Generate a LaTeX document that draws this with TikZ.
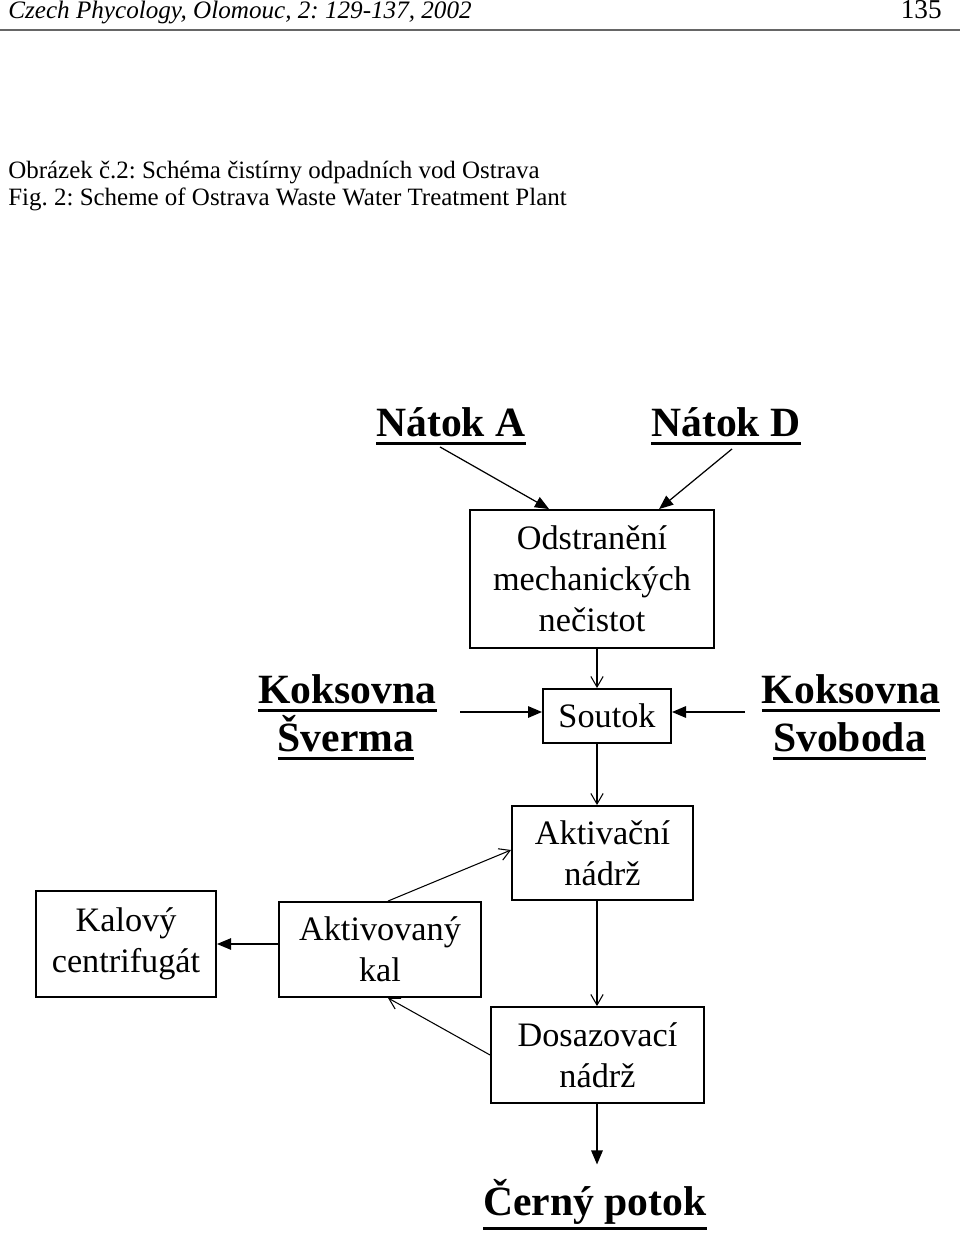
\documentclass[tikz,border=0pt]{standalone}
\usepackage{fontspec}
\setmainfont{Liberation Serif}
\usetikzlibrary{arrows.meta,calc}
\newcommand{\ulbf}[2][4.9pt]{\setbox0=\hbox{#2}\rlap{\rule[-#1]{\wd0}{1.7pt}}\box0}
\begin{document}
\frenchspacing
\begin{tikzpicture}[x=0.02cm,y=-0.02cm,
  box/.style={draw,line width=1.1pt,align=center,inner sep=0pt,font=\fontsize{19.5}{23.3}\selectfont},
  lbl/.style={inner sep=0pt,anchor=base,font=\fontsize{23.7}{28}\selectfont\bfseries},
  filltip/.style={-{Triangle[length=8pt,width=6.5pt]},line width=0.7pt},
  opentip/.style={-{Straight Barb[length=6pt,width=7pt]},line width=0.6pt}]
\useasboundingbox (0,0) rectangle (960,1246);
\node[anchor=base west,inner sep=0pt,font=\fontsize{14.3}{17}\selectfont\itshape] (journal) at (8,19) {Czech Phycology, Olomouc, 2: 129-137, 2002};
\node[anchor=base east,inner sep=0pt,font=\fontsize{15.5}{17}\selectfont] (page) at (942,19) {135};
\draw[line width=1.4pt,black!60] (0,30) -- (960,30);
\node[anchor=base west,inner sep=0pt,font=\fontsize{14.2}{17}\selectfont] (capcz) at (8,179) {Obrázek č.2: Schéma čistírny odpadních vod Ostrava};
\node[anchor=base west,inner sep=0pt,font=\fontsize{14.2}{17}\selectfont] (capen) at (8,206) {Fig. 2: Scheme of Ostrava Waste Water Treatment Plant};
\node[lbl] (natA) at (451,436) {\ulbf{Nátok A}};
\node[lbl] (natD) at (726,436) {\ulbf{Nátok D}};
\node[box,minimum width=4.88cm,minimum height=2.76cm] (odstr) at (592,579) {Odstranění\\mechanických\\nečistot};
\node[lbl] (kosvA) at (347.5,703) {\ulbf{Koksovna}};
\node[lbl] (kosvB) at (346,751) {\ulbf{Šverma}};
\node[box,minimum width=2.56cm,minimum height=1.08cm] (soutok) at (607,716) {Soutok};
\node[lbl] (kosbA) at (851,703) {\ulbf{Koksovna}};
\node[lbl] (kosbB) at (849.5,751) {\ulbf{Svoboda}};
\node[box,minimum width=3.62cm,minimum height=1.88cm] (aktiv) at (602.5,853) {Aktivační\\nádrž};
\node[box,minimum width=3.6cm,minimum height=2.12cm] (kalovy) at (126,944) {Kalový\\centrifugát};
\node[box,minimum width=4.04cm,minimum height=1.9cm] (aktkal) at (380,949.5) {Aktivovaný\\kal};
\node[box,minimum width=4.26cm,minimum height=1.92cm] (dosaz) at (597.5,1055) {Dosazovací\\nádrž};
\node[lbl] (cerny) at (595,1215) {\ulbf[8.3pt]{Černý potok}};
\coordinate (trunk) at (597,0);
\coordinate (kosvin) at (460,712);
\coordinate (kosbin) at (745,712);
\draw[filltip] ($(natA.south)+(-11,2)$) -- ($(odstr.north west)+(80,0)$);
\draw[filltip] ($(natD.south)+(6,4)$) -- ($(odstr.north west)+(190,0)$);
\draw[opentip] (odstr.south -| trunk) -- (soutok.north -| trunk);
\draw[filltip,line width=1pt] (kosvin) -- (kosvin -| soutok.west);
\draw[filltip,line width=1pt] (kosbin) -- (kosbin -| soutok.east);
\draw[opentip] (soutok.south -| trunk) -- (aktiv.north -| trunk);
\draw[opentip] ($(aktkal.north)+(8,0)$) -- ($(aktiv.west)+(0,-3)$);
\draw[filltip] (aktkal.west |- kalovy.east) -- (kalovy.east);
\draw[opentip] (aktiv.south -| trunk) -- (dosaz.north -| trunk);
\draw[opentip] (dosaz.west) -- ($(aktkal.south)+(8,0)$);
\draw[filltip,line width=1pt] (dosaz.south -| trunk) -- ($(cerny.north -| trunk)+(0,-14)$);
\end{tikzpicture}
\end{document}
